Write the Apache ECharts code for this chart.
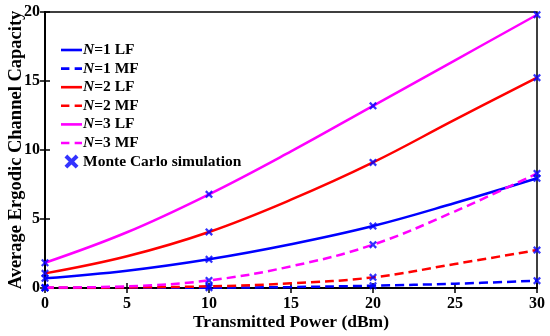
<!DOCTYPE html>
<html><head><meta charset="utf-8">
<script src="https://cdn.jsdelivr.net/npm/echarts@6/dist/echarts.min.js"></script>
<style>html,body{margin:0;padding:0;background:#fff}#c{width:550px;height:336px}</style>
</head><body><div id="c"></div>
<script>
// Data
const powerDbm = [0, 5, 10, 15, 20, 25, 30];
const n1LF = [0.70, 1.25, 2.08, 3.17, 4.49, 6.16, 7.95];
const n1MF = [0.00, 0.01, 0.02, 0.07, 0.17, 0.31, 0.53];
const n2LF = [1.06, 2.30, 4.06, 6.40, 9.10, 12.20, 15.24];
const n2MF = [0.01, 0.04, 0.12, 0.34, 0.77, 1.74, 2.75];
const n3LF = [1.83, 4.04, 6.79, 9.90, 13.20, 16.50, 19.80];
const n3MF = [0.03, 0.12, 0.55, 1.57, 3.14, 5.56, 8.30];
const mcPower = [0, 10, 20, 30];
const mcN1LF = [0.70, 2.08, 4.49, 7.95];
const mcN1MF = [0.00, 0.02, 0.17, 0.53];
const mcN2LF = [1.06, 4.06, 9.10, 15.24];
const mcN2MF = [0.01, 0.12, 0.77, 2.75];
const mcN3LF = [1.83, 6.79, 13.20, 19.80];
const mcN3MF = [0.03, 0.55, 3.14, 8.30];
const xTicks = [0, 5, 10, 15, 20, 25, 30];
const yTicks = [0, 5, 10, 15, 20];
const seriesNames = ['N=1 LF', 'N=1 MF', 'N=2 LF', 'N=2 MF', 'N=3 LF', 'N=3 MF'];
const mcName = 'Monte Carlo simulation';

const FONT = '"Liberation Serif","Times New Roman",serif';
const BLUE = '#0000ff', RED = '#ff0000', MAG = '#ff00ff';
const DASH = [9, 5];
const XMARK = 'path://M0,2 L2,0 L5,3 L8,0 L10,2 L7,5 L10,8 L8,10 L5,7 L2,10 L0,8 L3,5 Z';
const SOLID_ICON = 'path://M0,0 H40 V5 H0 Z';
const DASH_ICON = 'path://M0,0 H16 V5 H0 Z M26,0 H40 V5 H26 Z';

function pairs(xs, ys) { return xs.map((x, i) => [x, ys[i]]); }
function lineSeries(name, ys, color, dashed) {
  return {
    name, type: 'line', data: pairs(powerDbm, ys), smooth: 0.4, symbol: 'none',
    showSymbol: false, itemStyle: { color },
    lineStyle: { color, width: 2.5, type: dashed ? DASH : 'solid' },
    z: 2
  };
}
const mcData = [].concat(
  pairs(mcPower, mcN1LF), pairs(mcPower, mcN1MF),
  pairs(mcPower, mcN2LF), pairs(mcPower, mcN2MF),
  pairs(mcPower, mcN3LF), pairs(mcPower, mcN3MF)
);

const chart = echarts.init(document.getElementById('c'), null, { renderer: 'canvas' });
const axisLabelStyle = { fontFamily: FONT, fontWeight: 'bold', fontSize: 16, color: '#000' };
chart.setOption({
  animation: false,
  grid: { left: 45, right: 13, top: 12, bottom: 48, containLabel: false, outerBoundsMode: 'none',
          show: true, borderColor: '#000', borderWidth: 1.5 },
  legend: {
    orient: 'vertical', left: 56, top: 37, itemWidth: 21, itemHeight: 14, itemGap: 2.6,
    symbolKeepAspect: true,
    data: seriesNames.map((n, i) => ({ name: n, icon: i % 2 ? DASH_ICON : SOLID_ICON }))
      .concat([{ name: mcName, icon: XMARK }]),
    formatter: function (name) {
      if (name.charAt(0) === 'N') return '{i|N}{t|' + name.slice(1) + '}';
      return '{t|' + name + '}';
    },
    textStyle: {
      fontFamily: FONT, fontWeight: 'bold', fontSize: 15.5, color: '#000', padding: [0, 0, 0, -4],
      rich: {
        i: { fontFamily: FONT, fontWeight: 'bold', fontStyle: 'italic', fontSize: 15.5, color: '#000' },
        t: { fontFamily: FONT, fontWeight: 'bold', fontSize: 15.5, color: '#000' }
      }
    }
  },
  xAxis: [{
    type: 'value', min: 0, max: 30, interval: 5,
    name: 'Transmitted Power (dBm)', nameLocation: 'middle', nameGap: 25, nameMoveOverlap: false,
    nameTextStyle: { fontFamily: FONT, fontWeight: 'bold', fontSize: 17.5, color: '#000' },
    axisLine: { lineStyle: { color: '#000', width: 2 } },
    axisTick: { inside: true, length: 5, lineStyle: { color: '#000', width: 1.5 } },
    axisLabel: Object.assign({ margin: 8, customValues: xTicks }, axisLabelStyle),
    splitLine: { show: false }
  }, {
    type: 'value', min: 0, max: 30, interval: 5, position: 'top',
    axisLine: { lineStyle: { color: '#000', width: 1.5 } },
    axisTick: { inside: true, length: 5, lineStyle: { color: '#000', width: 1.5 } },
    axisLabel: { show: false }, splitLine: { show: false }
  }],
  yAxis: [{
    type: 'value', min: 0, max: 20, interval: 5,
    name: 'Average Ergodic Channel Capacity', nameLocation: 'middle', nameGap: 19, nameMoveOverlap: false,
    nameTextStyle: { fontFamily: FONT, fontWeight: 'bold', fontSize: 18.5, color: '#000' },
    axisLine: { show: true, lineStyle: { color: '#000', width: 2 } },
    axisTick: { show: true, inside: true, length: 5, lineStyle: { color: '#000', width: 1.5 } },
    axisLabel: Object.assign({ margin: 5, customValues: yTicks }, axisLabelStyle),
    splitLine: { show: false }
  }, {
    type: 'value', min: 0, max: 20, interval: 5, position: 'right',
    axisLine: { show: true, lineStyle: { color: '#000', width: 1.5 } },
    axisTick: { show: true, inside: true, length: 5, lineStyle: { color: '#000', width: 1.5 } },
    axisLabel: { show: false }, splitLine: { show: false }
  }],
  series: [
    lineSeries(seriesNames[0], n1LF, BLUE, false),
    lineSeries(seriesNames[1], n1MF, BLUE, true),
    lineSeries(seriesNames[2], n2LF, RED, false),
    lineSeries(seriesNames[3], n2MF, RED, true),
    lineSeries(seriesNames[4], n3LF, MAG, false),
    lineSeries(seriesNames[5], n3MF, MAG, true),
    {
      name: mcName, type: 'scatter', data: mcData,
      symbol: XMARK, symbolSize: 8, clip: false, z: 5,
      itemStyle: { color: BLUE }
    }
  ]
});
</script></body></html>
